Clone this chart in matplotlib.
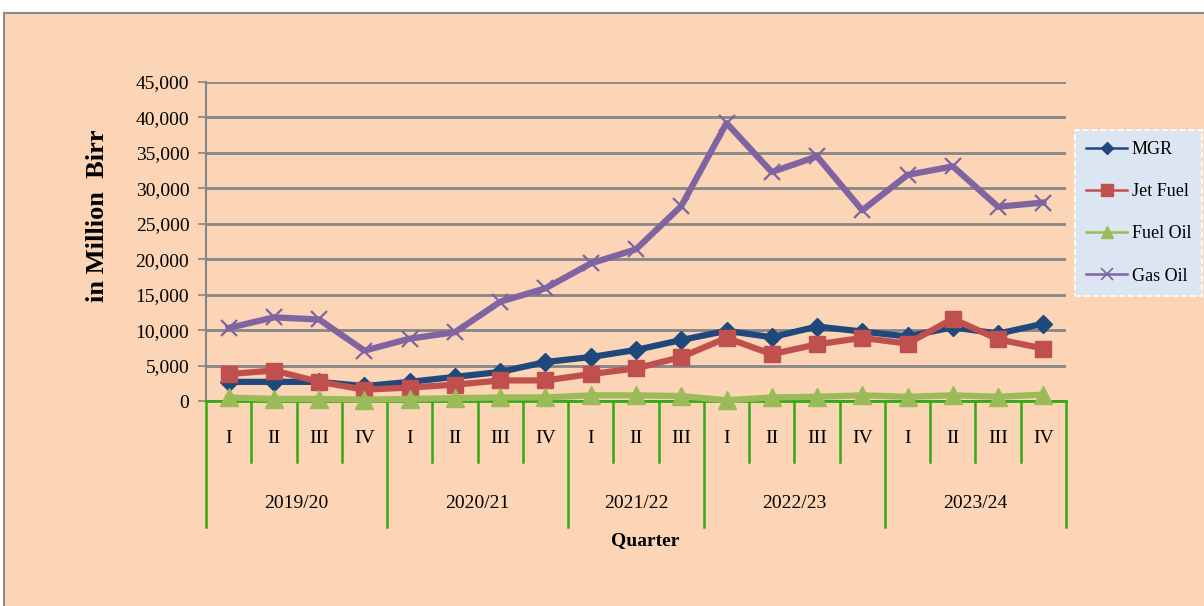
import matplotlib
matplotlib.use("Agg")
import matplotlib.pyplot as plt
from matplotlib.lines import Line2D
from matplotlib.patches import Rectangle
import matplotlib.transforms as mtransforms

# ---- data ----
years = ["2019/20", "2020/21", "2021/22", "2022/23", "2023/24"]
quarters_per_year = [4, 4, 3, 4, 4]
quarter_labels = ["I", "II", "III", "IV", "I", "II", "III", "IV", "I", "II", "III",
                  "I", "II", "III", "IV", "I", "II", "III", "IV"]
mgr = [2700, 2700, 2700, 2100, 2700, 3400, 4100, 5500, 6200, 7200, 8600,
       9900, 9000, 10500, 9800, 9100, 10400, 9500, 10900]
jet_fuel = [3800, 4300, 2700, 1600, 1900, 2300, 2900, 2900, 3800, 4600, 6200,
            8900, 6600, 8000, 8900, 8100, 11600, 8700, 7400]
fuel_oil = [500, 300, 300, 200, 300, 400, 500, 500, 800, 800, 700,
            100, 500, 600, 800, 600, 800, 600, 900]
gas_oil = [10300, 11800, 11500, 7100, 8800, 9700, 14000, 15900, 19400, 21400, 27500,
           39200, 32300, 34500, 26900, 31900, 33100, 27400, 28000]
yticks = list(range(0, 45001, 5000))

SERIF = ["Liberation Serif", "DejaVu Serif"]
plt.rcParams["font.family"] = SERIF

PEACH = "#FBD5B5"
GREEN = "#33AA14"
W, H = 1204, 606
fig = plt.figure(figsize=(W / 100, H / 100), dpi=100, facecolor="white")

# outer frame
fig.patches.append(Rectangle((4 / W, -0.1), 1.2, 1 - 13 / H + 0.1,
                             transform=fig.transFigure, facecolor=PEACH,
                             edgecolor="#8C8C8C", linewidth=1.5, zorder=-10))

ax = fig.add_axes([206 / W, 1 - 401 / H, 860 / W, 319 / H])
ax.set_zorder(1)
ax.patch.set_visible(False)

x = list(range(len(quarter_labels)))
ax.plot(x, gas_oil, color="#8064A2", lw=4.5, marker="x", ms=12, mew=1.6,
        zorder=3, clip_on=False)
ax.plot(x, mgr, color="#1F497D", lw=4.5, marker="D", ms=9, zorder=5, clip_on=False)
ax.plot(x, jet_fuel, color="#C0504D", lw=4.5, marker="s", ms=11, zorder=6, clip_on=False)
ax.plot(x, fuel_oil, color="#9BBB59", lw=4.5, marker="^", ms=13, zorder=7, clip_on=False)

ax.set_xlim(-0.5, len(x) - 0.5)
ax.set_ylim(0, 45000)
ax.set_yticks(yticks)
ax.set_yticklabels([f"{v:,}" for v in yticks], fontsize=14)
ax.yaxis.grid(True, color="#868686", lw=2)
ax.set_axisbelow(True)
ax.tick_params(axis="y", length=6, width=1.2, color="#868686", pad=6)
for s in ["top", "right"]:
    ax.spines[s].set_visible(False)
ax.spines["left"].set_color("#868686")
ax.spines["left"].set_linewidth(1.5)
ax.spines["bottom"].set_color(GREEN)
ax.spines["bottom"].set_linewidth(2)
ax.spines["bottom"].set_zorder(2.5)
ax.set_xticks([])

# hierarchical category axis
trans = mtransforms.blended_transform_factory(ax.transData, ax.transAxes)
boundaries = [0]
for n in quarters_per_year:
    boundaries.append(boundaries[-1] + n)
year_edges = set(boundaries)
for k in range(len(x) + 1):
    xb = k - 0.5
    y_end = -0.395 if k in year_edges else -0.191
    ax.plot([xb, xb], [0, y_end], color=GREEN, lw=1.8, transform=trans,
            clip_on=False, zorder=2)
for i, q in enumerate(quarter_labels):
    ax.text(i, -0.119, q, transform=trans, ha="center", va="center", fontsize=14)
for j, yr in enumerate(years):
    mid = (boundaries[j] + boundaries[j + 1]) / 2 - 0.5
    ax.text(mid, -0.320, yr, transform=trans, ha="center", va="center", fontsize=14)

fig.text(645 / W, 1 - 541 / H, "Quarter", ha="center", va="center",
         fontsize=14, fontweight="bold")
fig.text(97 / W, 1 - 216 / H, "in Million  Birr", ha="center", va="center",
         rotation=90, fontsize=19, fontweight="bold")

handles = [
    Line2D([], [], color="#1F497D", lw=1.8, marker="D", ms=6),
    Line2D([], [], color="#C0504D", lw=1.8, marker="s", ms=8),
    Line2D([], [], color="#9BBB59", lw=1.8, marker="^", ms=8),
    Line2D([], [], color="#8064A2", lw=1.8, marker="x", ms=8, mew=1.2),
]
leg = fig.legend(handles, ["MGR", "Jet Fuel", "Fuel Oil", "Gas Oil"],
                 loc="upper left", bbox_to_anchor=(1075 / W, 1 - 130 / H),
                 fontsize=13, handlelength=2.3, labelspacing=1.4,
                 borderpad=0.6, handletextpad=0.25, borderaxespad=0,
                 fancybox=False, frameon=True)
leg.set_zorder(5)
fr = leg.get_frame()
fr.set_facecolor("#DCE6F2")
fr.set_edgecolor("white")
fr.set_linestyle("--")
fr.set_linewidth(1.2)
fr.set_alpha(1)

fig.savefig("out.png", dpi=100, facecolor="white")
